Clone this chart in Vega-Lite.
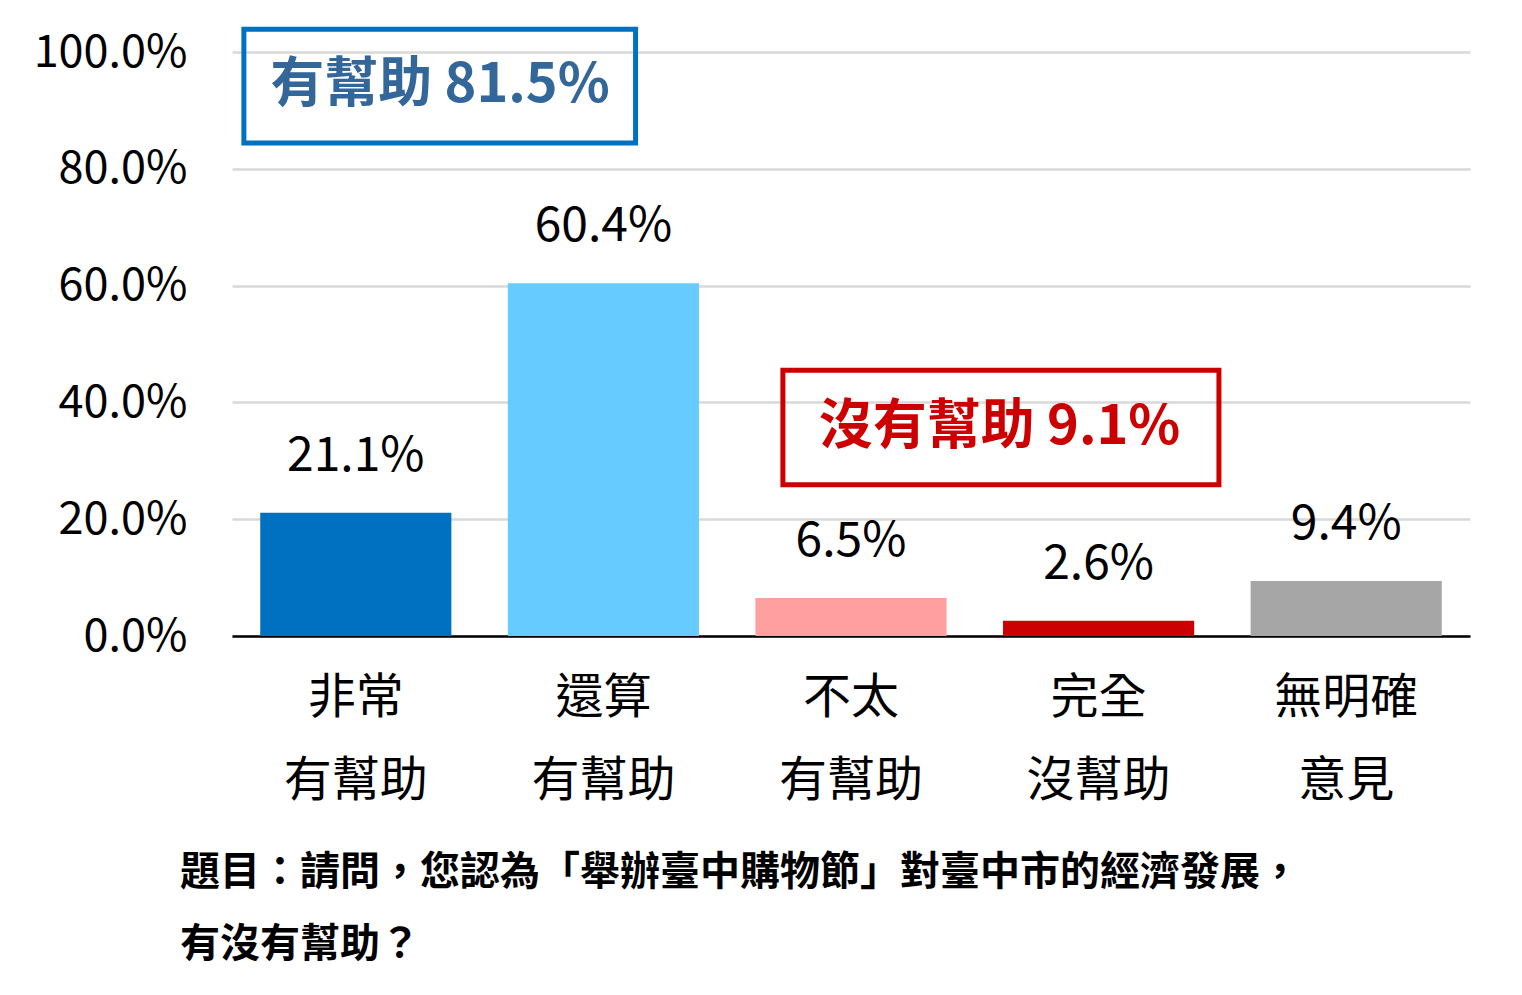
{
  "$schema": "https://vega.github.io/schema/vega-lite/v6.json",
  "autosize": {"type": "none"},
  "padding": {"left": 232, "top": 52, "right": 52, "bottom": 359},
  "width": 1238,
  "height": 584,
  "background": "white",
  "config": {
    "font": "Noto Sans CJK TC",
    "view": {"stroke": null}
  },
  "title": {
    "text": ["題目：請問，您認為「舉辦臺中購物節」對臺中市的經濟發展，", "有沒有幫助？"],
    "orient": "bottom",
    "anchor": "start",
    "frame": "group",
    "align": "left",
    "dx": -52,
    "offset": 48,
    "fontSize": 40,
    "fontWeight": "bold",
    "lineHeight": 72,
    "color": "black",
    "font": "Noto Sans CJK TC"
  },
  "datasets": {
    "bars": [
      {"cat": "非常|有幫助", "pct": 0.211},
      {"cat": "還算|有幫助", "pct": 0.604},
      {"cat": "不太|有幫助", "pct": 0.065},
      {"cat": "完全|沒幫助", "pct": 0.026},
      {"cat": "無明確|意見", "pct": 0.094}
    ],
    "blueBox": [{"x": 0.048, "x2": 1.63, "y": 1.039, "y2": 0.844, "tx": 0.84, "ty": 0.942, "label": "有幫助 81.5%"}],
    "redBox": [{"x": 2.225, "x2": 3.986, "y": 0.455, "y2": 0.259, "tx": 3.1, "ty": 0.356, "label": "沒有幫助 9.1%"}]
  },
  "resolve": {"scale": {"x": "independent"}},
  "layer": [
    {
      "data": {"name": "bars"},
      "layer": [
        {
          "mark": {"type": "bar"},
          "encoding": {
            "x": {
              "field": "cat", "type": "nominal", "sort": null,
              "scale": {"paddingInner": 0.228, "paddingOuter": 0.114},
              "axis": {
                "title": null,
                "labelAngle": 0,
                "labelExpr": "split(datum.value, '|')",
                "labelFontSize": 48,
                "labelLineHeight": 83,
                "labelColor": "black",
                "labelPadding": 38,
                "ticks": false,
                "domainColor": "black",
                "domainWidth": 2.5,
                "grid": false
              }
            },
            "y": {
              "field": "pct", "type": "quantitative",
              "scale": {"domain": [0, 1]},
              "axis": {
                "title": null,
                "values": [0, 0.2, 0.4, 0.6, 0.8, 1],
                "format": ".1%",
                "labelFontSize": 45,
                "labelColor": "black",
                "labelPadding": 45,
                "ticks": false,
                "domain": false,
                "gridColor": "#d9d9d9",
                "gridWidth": 2.5
              }
            },
            "color": {
              "field": "cat", "type": "nominal", "sort": null, "legend": null,
              "scale": {"range": ["#0070c0", "#66ccff", "#ff9f9f", "#cc0000", "#a6a6a6"]}
            }
          }
        },
        {
          "mark": {"type": "text", "baseline": "alphabetic", "dy": -42, "fontSize": 48, "color": "black"},
          "encoding": {
            "x": {"field": "cat", "type": "nominal", "sort": null},
            "y": {"field": "pct", "type": "quantitative"},
            "text": {"field": "pct", "type": "quantitative", "format": ".1%"}
          }
        }
      ]
    },
    {
      "data": {"name": "blueBox"},
      "layer": [
        {
          "mark": {"type": "rect", "fill": null, "fillOpacity": 0, "stroke": "#0070c0", "strokeWidth": 5},
          "encoding": {
            "x": {"field": "x", "type": "quantitative", "scale": {"domain": [0, 5]}, "axis": null},
            "x2": {"field": "x2"},
            "y": {"field": "y", "type": "quantitative"},
            "y2": {"field": "y2"}
          }
        },
        {
          "mark": {"type": "text", "fontSize": 54, "fontWeight": "bold", "color": "#336699", "baseline": "middle"},
          "encoding": {
            "x": {"field": "tx", "type": "quantitative", "scale": {"domain": [0, 5]}, "axis": null},
            "y": {"field": "ty", "type": "quantitative"},
            "text": {"field": "label"}
          }
        }
      ]
    },
    {
      "data": {"name": "redBox"},
      "layer": [
        {
          "mark": {"type": "rect", "fill": null, "fillOpacity": 0, "stroke": "#cc0000", "strokeWidth": 5},
          "encoding": {
            "x": {"field": "x", "type": "quantitative", "scale": {"domain": [0, 5]}, "axis": null},
            "x2": {"field": "x2"},
            "y": {"field": "y", "type": "quantitative"},
            "y2": {"field": "y2"}
          }
        },
        {
          "mark": {"type": "text", "fontSize": 54, "fontWeight": "bold", "color": "#cc0000", "baseline": "middle"},
          "encoding": {
            "x": {"field": "tx", "type": "quantitative", "scale": {"domain": [0, 5]}, "axis": null},
            "y": {"field": "ty", "type": "quantitative"},
            "text": {"field": "label"}
          }
        }
      ]
    }
  ]
}
